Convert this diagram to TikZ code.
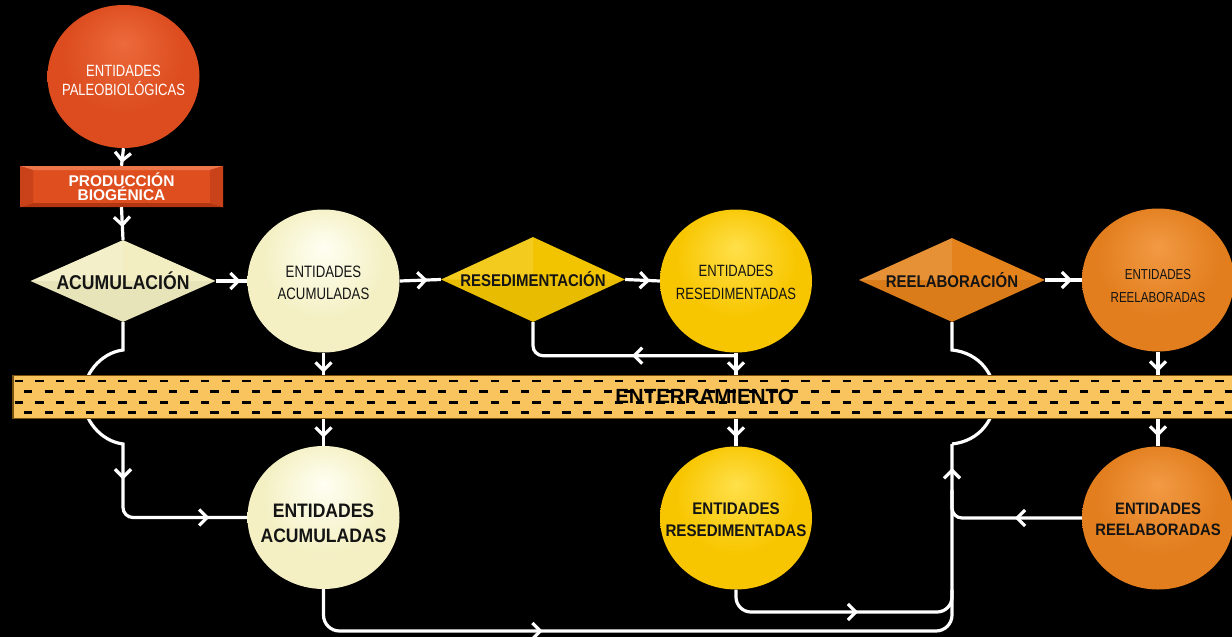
\documentclass[tikz,border=0pt]{standalone}
\usepackage{fontspec}
\setmainfont{Liberation Sans}
\newfontfamily\condA{Liberation Sans}[FakeStretch=0.80]
\newfontfamily\condB{Liberation Sans}[FakeStretch=0.90]
\newfontfamily\condD{Liberation Sans}[FakeStretch=0.88]
\usetikzlibrary{shapes.geometric,arrows.meta,decorations.markings}

\definecolor{redhi}{HTML}{EC6A3C}
\definecolor{redmid}{HTML}{DC4C1E}
\definecolor{reddk}{HTML}{B8360E}
\definecolor{crhi}{HTML}{FFFFF2}
\definecolor{crmid}{HTML}{F4F0C4}
\definecolor{crdk}{HTML}{DCD49A}
\definecolor{yehi}{HTML}{FFE04A}
\definecolor{yemid}{HTML}{F8C600}
\definecolor{yedk}{HTML}{DDA800}
\definecolor{orhi}{HTML}{F29A44}
\definecolor{ormid}{HTML}{E27E1E}
\definecolor{ordk}{HTML}{BE620C}
\definecolor{prodc}{HTML}{DE4E1E}
\definecolor{prodlt}{HTML}{EE764A}
\definecolor{prodmd}{HTML}{C9421A}
\definecolor{proddk}{HTML}{B23612}
\definecolor{acuD}{HTML}{F2EEC2}
\definecolor{rdD}{HTML}{F2C400}
\definecolor{relD}{HTML}{E4821C}
\definecolor{bandc}{HTML}{F9C45E}
\definecolor{banddk}{HTML}{7A5010}
\definecolor{textdk}{HTML}{141414}

\pgfdeclareradialshading{shRed}{\pgfpoint{0bp}{12bp}}{color(0bp)=(redhi); color(20bp)=(redmid); color(42bp)=(redmid); color(50bp)=(reddk)}
\pgfdeclareradialshading{shCream}{\pgfpoint{0bp}{12bp}}{color(0bp)=(crhi); color(20bp)=(crmid); color(42bp)=(crmid); color(50bp)=(crdk)}
\pgfdeclareradialshading{shYel}{\pgfpoint{0bp}{12bp}}{color(0bp)=(yehi); color(20bp)=(yemid); color(42bp)=(yemid); color(50bp)=(yedk)}
\pgfdeclareradialshading{shOr}{\pgfpoint{0bp}{12bp}}{color(0bp)=(orhi); color(20bp)=(ormid); color(42bp)=(ormid); color(50bp)=(ordk)}

\tikzset{
  conn/.style={draw=white, line width=3.2pt},
  arr/.style={postaction={decorate, decoration={markings,
      mark=at position #1 with {\arrow{Straight Barb[length=8pt,width=16pt]}}}}},
  ball/.style={ellipse, minimum width=152pt, minimum height=143pt, inner sep=0pt, shade, shading=#1},
  txt/.style={inner sep=0pt, align=center, text=textdk},
  dia/.style={diamond, aspect=2.25, inner sep=0pt, fill=#1, text=textdk,
    path picture={
      \fill[black,opacity=0.04] (path picture bounding box.west) -- (path picture bounding box.center) -- (path picture bounding box.east) -- (path picture bounding box.south) -- cycle;
      \fill[white,opacity=0.12] (path picture bounding box.west) -- (path picture bounding box.north) -- (path picture bounding box.center) -- cycle;
    }},
  prod/.style={rectangle, minimum width=203pt, minimum height=41pt, inner sep=0pt, fill=prodc,
    align=center, text=white, font=\bfseries\fontsize{15.5}{14.5}\selectfont,
    path picture={
      \fill[prodlt] (path picture bounding box.north west) -- (path picture bounding box.north east) -- ([xshift=-13pt,yshift=-4pt]path picture bounding box.north east) -- ([xshift=13pt,yshift=-4pt]path picture bounding box.north west) -- cycle;
      \fill[proddk] (path picture bounding box.south west) -- (path picture bounding box.south east) -- ([xshift=-13pt,yshift=4pt]path picture bounding box.south east) -- ([xshift=13pt,yshift=4pt]path picture bounding box.south west) -- cycle;
      \fill[prodmd] (path picture bounding box.north west) -- ([xshift=13pt,yshift=-4pt]path picture bounding box.north west) -- ([xshift=13pt,yshift=4pt]path picture bounding box.south west) -- (path picture bounding box.south west) -- cycle;
      \fill[prodmd] (path picture bounding box.north east) -- ([xshift=-13pt,yshift=-4pt]path picture bounding box.north east) -- ([xshift=-13pt,yshift=4pt]path picture bounding box.south east) -- (path picture bounding box.south east) -- cycle;
    }},
  dashrow/.style={draw=black, line width=2.6pt, dash pattern=on 8.3pt off 12.4pt}
}

\begin{document}
\begin{tikzpicture}[x=1pt,y=-1pt]
\useasboundingbox (0,0) rectangle (1232,637);
\fill[black] (0,0) rectangle (1232,637);

% ---------- shapes ----------
\node[ball=shRed] (pal) at (123.5,76.5) {};
\node[txt, text=white, font=\condA\fontsize{16.3}{19.5}\selectfont, yshift=-4pt] (palt) at (pal.center) {ENTIDADES\\PALEOBIOLÓGICAS};

\node[prod] (pb) at (121.5,186.5) {PRODUCCIÓN\\BIOGÉNICA};

\node[dia=acuD, minimum width=185pt, minimum height=82pt, font=\condD\bfseries\fontsize{20}{20}\selectfont] (acu) at (123,281) {ACUMULACIÓN};
\node[ball=shCream] (ea1) at (323.5,281) {};
\node[txt, font=\condA\fontsize{16.5}{22}\selectfont, yshift=-1.5pt] (ea1t) at (ea1.center) {ENTIDADES\\ACUMULADAS};

\node[dia=rdD, minimum width=184pt, minimum height=85pt, font=\condD\bfseries\fontsize{17}{17}\selectfont] (rd) at (533,279.5) {RESEDIMENTACIÓN};
\node[ball=shYel] (rs1) at (736,281) {};
\node[txt, font=\condA\fontsize{16.3}{23}\selectfont, yshift=-1.5pt] (rs1t) at (rs1.center) {ENTIDADES\\RESEDIMENTADAS};

\node[dia=relD, minimum width=186pt, minimum height=84pt, font=\condD\bfseries\fontsize{17}{17}\selectfont] (rel) at (952,280) {REELABORACIÓN};
\node[ball=shOr] (rl1) at (1158,280) {};
\node[txt, font=\condA\fontsize{14.5}{23}\selectfont, yshift=-6pt] (rl1t) at (rl1.center) {ENTIDADES\\REELABORADAS};

\node[ball=shCream] (ea2) at (323.5,517.5) {};
\node[txt, font=\condB\bfseries\fontsize{19.5}{25}\selectfont, yshift=-5.5pt] (ea2t) at (ea2.center) {ENTIDADES\\ACUMULADAS};
\node[ball=shYel] (rs2) at (736,518) {};
\node[txt, font=\condB\bfseries\fontsize{16.8}{21.5}\selectfont, yshift=-1.5pt] (rs2t) at (rs2.center) {ENTIDADES\\RESEDIMENTADAS};
\node[ball=shOr] (rl2) at (1158,518) {};
\node[txt, font=\condB\bfseries\fontsize{16.5}{21.5}\selectfont, yshift=-1.5pt] (rl2t) at (rl2.center) {ENTIDADES\\REELABORADAS};

\coordinate (jr) at (952,444);

% ---------- connectors ----------
\draw[conn, arr=-3pt] (pal.south) -- (pb.north);
\draw[conn, arr=20pt] (pb.south) -- (acu.north);
\draw[conn, arr=25pt] (acu.east) -- (ea1.west);
\draw[conn, arr=28pt] (ea1.east) -- (rd.west);
\draw[conn, arr=25pt] (rd.east) -- (rs1.west);
\draw[conn, arr=27pt] (rel.east) -- (rl1.west);

\draw[conn, arr=20pt, arr=85pt] (ea1.south) -- (ea2.north);
\draw[conn, arr=20pt, arr=85pt] (rs1.south) -- (rs2.north);
\draw[conn, arr=20pt, arr=85pt] (rl1.south) -- (rl2.north);

\draw[conn, rounded corners=10pt, arr=104pt] ([yshift=-3pt]rs1.south) -| (rd.south);

\draw[conn, arr=-38pt, arr=-158pt] (acu.south) -- (123,350)
   .. controls (100,353) and (83,375) .. (83,397)
   .. controls (83,419) and (100,441) .. (123,444)
   [rounded corners=10pt] |- (ea2.west);

\draw[conn, rounded corners=16pt, arr=254pt, arr=-24pt] (ea2.south) |- (952,631) -- (jr);
\draw[conn, rounded corners=15pt, arr=138pt] (rs2.south) |- (952,612) -- (952,590);
\draw[conn, rounded corners=10pt, arr=67pt] (rl2.west) -| (952,490);
\draw[conn] (jr) .. controls (980,441) and (995,419) .. (995,397)
   .. controls (995,375) and (980,353) .. (952,350) -- (rel.south);

% ---------- burial band ----------
\node[rectangle, draw=banddk, line width=1.2pt, fill=bandc, minimum width=1220pt, minimum height=43pt, inner sep=0pt] (band) at (623,397) {};
\foreach \yy/\ph in {381/19pt, 391.7/9.7pt, 402.3/19pt, 412.7/9.7pt}
  \draw[dashrow, dash phase=\ph] (13,\yy) -- (1232,\yy);
\node[inner sep=0pt, text=black, font=\bfseries\fontsize{20.5}{20.5}\selectfont] (entt) at (704.5,396) {ENTERRAMIENTO};
\end{tikzpicture}
\end{document}
